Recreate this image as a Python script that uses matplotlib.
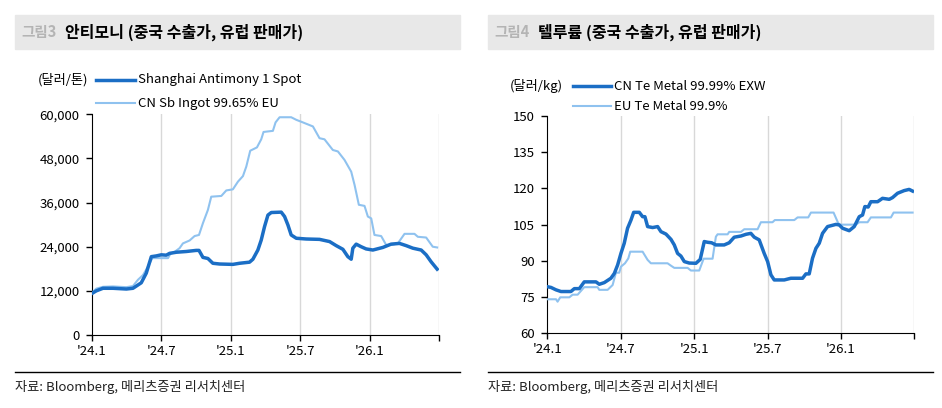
import matplotlib
matplotlib.use("Agg")
import matplotlib.pyplot as plt
from matplotlib.lines import Line2D
from matplotlib.patches import Rectangle

plt.rcParams['font.family'] = ['Noto Sans CJK KR', 'DejaVu Sans']

# x values are months since '24.1
xticks = [0, 6, 12, 18, 24, 30]
xlabels = ["'24.1", "'24.7", "'25.1", "'25.7", "'26.1", ""]

# Antimony (USD/t)
sb_sh_x = [0, 0.37, 0.95, 1.81, 2.97, 3.54, 3.83, 4.26, 4.69, 5.13, 5.56, 5.99, 6.42, 6.71,
           7.29, 8.15, 9.01, 9.25, 9.59, 10.02, 10.45, 11.03, 12.18, 12.76, 13.62, 13.91,
           14.34, 14.63, 14.92, 15.21, 15.5, 16.36, 16.65, 16.94, 17.22, 17.66, 18.52, 19.67,
           20.54, 21.11, 21.69, 22.12, 22.41, 22.55, 22.84, 23.27, 23.7, 24.28, 25.14, 25.86,
           26.58, 27.16, 27.74, 28.46, 28.89, 29.32, 29.84]
sb_sh = [11300, 12000, 12700, 12700, 12500, 12700, 13300, 14200, 16800, 21300, 21500, 21800,
         21700, 22200, 22500, 22700, 23000, 23000, 21100, 20800, 19500, 19300, 19200, 19500,
         19800, 20600, 23100, 25800, 29500, 32600, 33300, 33400, 32200, 29900, 27200, 26300,
         26100, 26000, 25400, 24300, 23300, 21300, 20600, 23600, 24700, 24000, 23400, 23100,
         23800, 24700, 24900, 24300, 23600, 23100, 21800, 19900, 17900]

sb_eu_x = [0, 0.37, 0.95, 1.81, 2.97, 3.54, 3.97, 4.41, 4.84, 5.21, 5.7, 6.57, 6.77, 7.14,
           7.57, 7.86, 8.44, 8.87, 9.25, 9.59, 10.02, 10.31, 11.18, 11.61, 12.18, 12.62,
           13.05, 13.34, 13.68, 14.26, 14.63, 14.83, 15.64, 15.87, 16.22, 17.22, 17.66, 18.23,
           19.1, 19.67, 20.1, 20.82, 21.26, 21.83, 22.41, 22.7, 23.07, 23.56, 23.85, 24.14,
           24.42, 25.0, 25.43, 25.86, 26.44, 27.02, 27.88, 28.17, 28.89, 29.46, 29.84]
sb_eu = [11500, 12600, 13100, 13200, 13000, 13300, 15000, 16300, 18600, 20900, 20900, 20900,
         22000, 22600, 23600, 24900, 25700, 26900, 27200, 30400, 34000, 37600, 37800, 39300,
         39600, 41700, 43200, 45800, 50100, 51000, 53200, 55200, 55500, 57800, 59200, 59200,
         58500, 57800, 56700, 53500, 53200, 50300, 49900, 47600, 44400, 40800, 35400, 35100,
         32200, 31700, 27200, 26900, 24500, 24500, 24900, 27500, 27500, 26700, 26500, 24000,
         23800]

# Tellurium (USD/kg)
te_cn_x = [0, 0.3, 0.71, 1.12, 1.93, 2.21, 2.62, 3.02, 3.98, 4.25, 4.66, 5.2, 5.48, 5.75,
           6.02, 6.29, 6.56, 6.84, 7.06, 7.52, 7.79, 7.98, 8.2, 8.61, 9.02, 9.29, 9.7, 10.11,
           10.38, 10.65, 10.92, 11.2, 11.6, 12.15, 12.5, 12.83, 13.1, 13.43, 13.78, 14.46,
           14.87, 15.28, 15.83, 16.24, 16.64, 16.92, 17.32, 17.73, 18.01, 18.28, 18.55, 19.37,
           19.91, 20.87, 21.14, 21.41, 21.68, 21.96, 22.23, 22.5, 22.91, 23.59, 23.86, 24.14,
           24.68, 25.09, 25.5, 25.77, 25.96, 26.23, 26.45, 27.0, 27.4, 27.95, 28.22, 28.63,
           29.17, 29.58, 29.86]
te_cn = [79.3, 79.0, 78.0, 77.3, 77.3, 78.5, 78.5, 81.3, 81.3, 80.3, 81.0, 82.8, 84.8, 88.3,
         93.1, 97.3, 103.5, 106.9, 110.1, 110.1, 108.3, 108.3, 104.2, 103.8, 104.2, 102.1,
         101.1, 98.9, 96.6, 93.1, 92.0, 89.7, 89.1, 89.0, 90.6, 98.0, 97.7, 97.5, 96.6, 96.6,
         97.5, 99.8, 100.3, 101.0, 101.4, 99.8, 98.7, 93.1, 89.7, 84.2, 82.1, 82.1, 82.8,
         82.8, 84.6, 84.6, 91.1, 95.2, 97.3, 101.4, 104.2, 105.1, 104.9, 103.5, 102.5, 104.2,
         108.3, 109.0, 112.5, 112.3, 114.5, 114.5, 115.9, 115.5, 116.2, 118.0, 119.1, 119.6,
         118.9]

te_eu_x = [0, 0.71, 0.84, 1.06, 1.8, 2.07, 2.48, 3.02, 4.11, 4.25, 4.93, 5.34, 5.61, 5.88,
           6.02, 6.35, 6.62, 6.78, 7.79, 8.2, 8.47, 9.83, 10.11, 10.38, 11.47, 11.74, 12.42,
           12.78, 13.51, 13.78, 13.92, 14.74, 14.87, 15.83, 16.1, 17.19, 17.46, 18.41, 18.6,
           20.19, 20.46, 21.33, 21.55, 23.4, 23.73, 23.86, 25.22, 25.5, 26.18, 26.45, 28.09,
           28.31, 29.86]
te_eu = [74.1, 74.1, 73.1, 74.9, 74.9, 76.0, 76.0, 79.1, 79.1, 78.0, 78.0, 80.0, 85.1, 85.1,
         87.6, 89.0, 91.0, 93.8, 93.8, 90.4, 89.0, 89.0, 88.0, 87.1, 87.1, 86.0, 86.0, 90.9,
         90.9, 100.0, 101.0, 101.0, 102.0, 102.0, 103.1, 103.1, 106.0, 106.0, 106.9, 106.9,
         108.0, 108.0, 110.0, 110.0, 106.2, 105.0, 105.0, 106.0, 106.0, 108.0, 108.0, 110.0,
         110.0]

DARK = '#1b6ec5'
LIGHT = '#8fc2ef'
W, H = 942, 408

fig = plt.figure(figsize=(W / 100, H / 100), dpi=100)


def fx(px):
    return px / W


def fy(py):
    return 1 - py / H


def panel(rect, yticks, ylabels, ylim, num, title, series, box):
    # header bar
    x0, x1 = box
    fig.add_artist(Rectangle((fx(x0), fy(49)), fx(x1 - x0), 34 / H,
                             transform=fig.transFigure, color='#e8e8e8', zorder=0))
    fig.text(fx(x0 + 6), fy(32), num, color='#b4b4b4', fontsize=10.5,
             fontweight='bold', va='center')
    fig.text(fx(x0 + 50), fy(32), title, color='black', fontsize=11.5,
             fontweight='bold', va='center')
    # footer
    fig.add_artist(Line2D([fx(x0), fx(x1)], [fy(372), fy(372)],
                          transform=fig.transFigure, color='black', lw=1))
    fig.text(fx(x0), fy(387), '자료: Bloomberg, 메리츠증권 리서치센터', fontsize=9.5,
             color='#222222', va='center')

    ax = fig.add_axes(rect)
    (xd, yd), (xl, yl) = series
    ax.plot(xl, yl, color=LIGHT, lw=1.5, zorder=3)
    ax.plot(xd, yd, color=DARK, lw=2.5, zorder=4)

    ax.set_xlim(0, 30)
    ax.set_ylim(*ylim)
    ax.set_xticks(xticks)
    ax.set_xticklabels(xlabels)
    ax.set_yticks(yticks)
    ax.set_yticklabels(ylabels)
    for x in xticks[1:]:
        ax.axvline(x, color='#d8d8d8', lw=1, zorder=1)
    for s in ['top', 'right']:
        ax.spines[s].set_visible(False)
    ax.tick_params(axis='both', direction='out', length=4, width=1, labelsize=9.5,
                   colors='black')
    ax.tick_params(axis='y', pad=5)
    ax.tick_params(axis='x', pad=3)
    return ax


ax1 = panel([fx(92), fy(335), fx(439 - 92), (335 - 114.3) / H],
            [0, 12000, 24000, 36000, 48000, 60000],
            ['0', '12,000', '24,000', '36,000', '48,000', '60,000'],
            (0, 60000), '그림3', '안티모니 (중국 수출가, 유럽 판매가)',
            [(sb_sh_x, sb_sh), (sb_eu_x, sb_eu)], (15, 460))

ax2 = panel([fx(547.3), fy(333.3), fx(914.3 - 547.3), (333.3 - 116) / H],
            [60, 75, 90, 105, 120, 135, 150],
            ['60', '75', '90', '105', '120', '135', '150'],
            (60, 150), '그림4', '텔루륨 (중국 수출가, 유럽 판매가)',
            [(te_cn_x, te_cn), (te_eu_x, te_eu)], (488, 933))


# legends drawn by hand next to unit labels
def legend(unit, ux, lx0, lx1, y1, y2, names):
    fig.text(fx(ux), fy(y1), unit, fontsize=9.5, va='center', ha='right')
    fig.add_artist(Line2D([fx(lx0), fx(lx1)], [fy(y1), fy(y1)],
                          transform=fig.transFigure, color=DARK, lw=2.5))
    fig.add_artist(Line2D([fx(lx0), fx(lx1)], [fy(y2), fy(y2)],
                          transform=fig.transFigure, color=LIGHT, lw=1.5))
    fig.text(fx(lx1 + 3), fy(y1), names[0], fontsize=9.5, va='center')
    fig.text(fx(lx1 + 3), fy(y2), names[1], fontsize=9.5, va='center')


legend('(달러/톤)', 88, 96, 135, 80, 103,
       ['Shanghai Antimony 1 Spot', 'CN Sb Ingot 99.65% EU'])
legend('(달러/kg)', 563, 573, 611, 86, 106,
       ['CN Te Metal 99.99% EXW', 'EU Te Metal 99.9%'])

fig.savefig('out.png', dpi=100)
